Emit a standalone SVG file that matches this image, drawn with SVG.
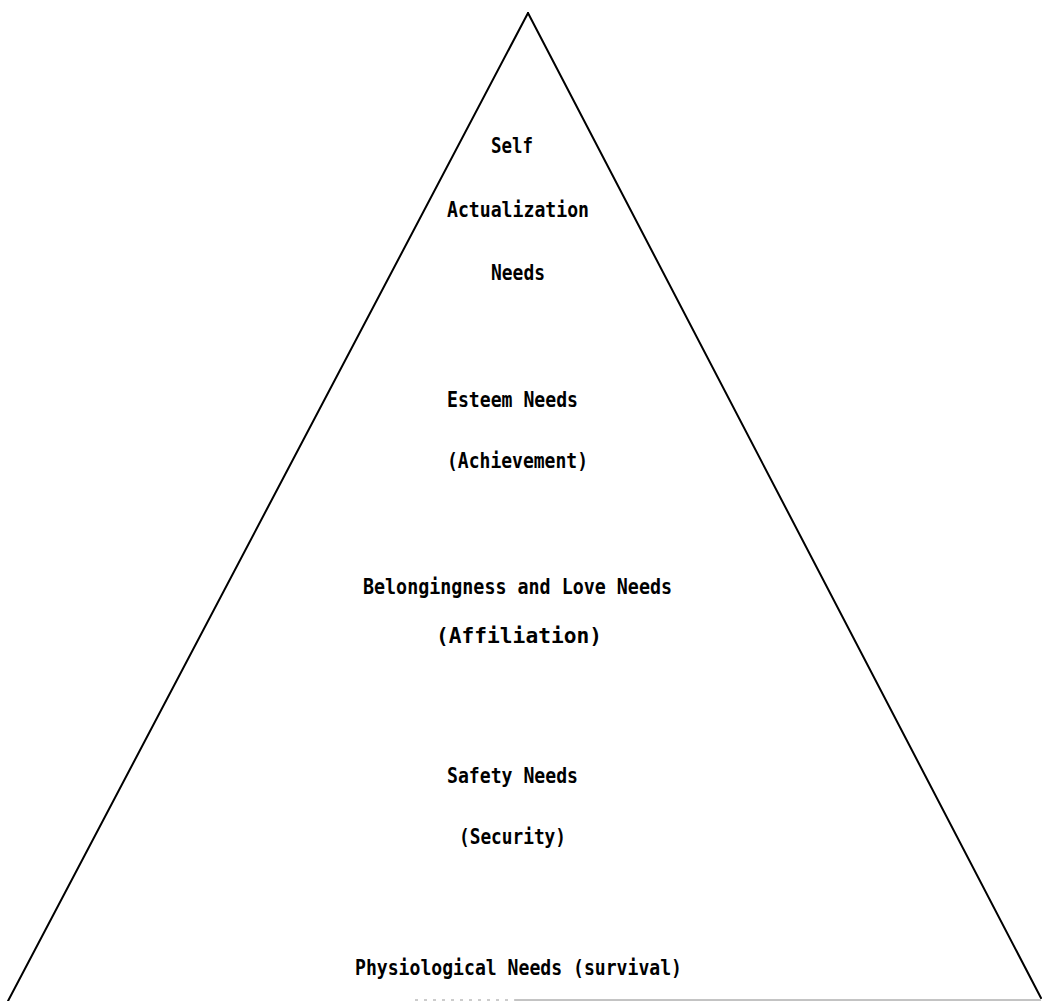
<svg xmlns="http://www.w3.org/2000/svg" width="1043" height="1001" viewBox="0 0 1043 1001">
<style>
.lbl{font-family:"DejaVu Sans Mono","Liberation Mono",monospace;font-weight:bold;font-size:21px;fill:#000}
.side{stroke:#000;stroke-width:2;fill:none;stroke-linecap:round}
</style>
<rect width="1043" height="1001" fill="#fff"/>
<g id="pyramid">
<line class="side" x1="528" y1="13" x2="8" y2="1001"/>
<line class="side" x1="528" y1="13" x2="1041" y2="998"/>
<line x1="415" y1="1000" x2="515" y2="1000" stroke="#999" stroke-width="1" stroke-dasharray="3,6"/>
<line x1="515" y1="1000" x2="1041" y2="1000" stroke="#888" stroke-width="1"/>
</g>
<g id="self-actualization">
<text class="lbl" x="491" y="153" textLength="42" lengthAdjust="spacingAndGlyphs">Self</text>
<text class="lbl" x="447" y="217" textLength="142" lengthAdjust="spacingAndGlyphs">Actualization</text>
<text class="lbl" x="491" y="280" textLength="54" lengthAdjust="spacingAndGlyphs">Needs</text>
</g>
<g id="esteem">
<text class="lbl" x="447" y="407" textLength="131" lengthAdjust="spacingAndGlyphs">Esteem Needs</text>
<text class="lbl" x="447" y="468" textLength="141" lengthAdjust="spacingAndGlyphs">(Achievement)</text>
</g>
<g id="belongingness">
<text class="lbl" x="363" y="594" textLength="309" lengthAdjust="spacingAndGlyphs">Belongingness and Love Needs</text>
<text class="lbl" x="436" y="643" textLength="166" lengthAdjust="spacingAndGlyphs">(Affiliation)</text>
</g>
<g id="safety">
<text class="lbl" x="447" y="783" textLength="131" lengthAdjust="spacingAndGlyphs">Safety Needs</text>
<text class="lbl" x="459" y="844" textLength="107" lengthAdjust="spacingAndGlyphs">(Security)</text>
</g>
<g id="physiological">
<text class="lbl" x="355" y="975" textLength="327" lengthAdjust="spacingAndGlyphs">Physiological Needs (survival)</text>
</g>
<g id="connectors"></g>
</svg>
